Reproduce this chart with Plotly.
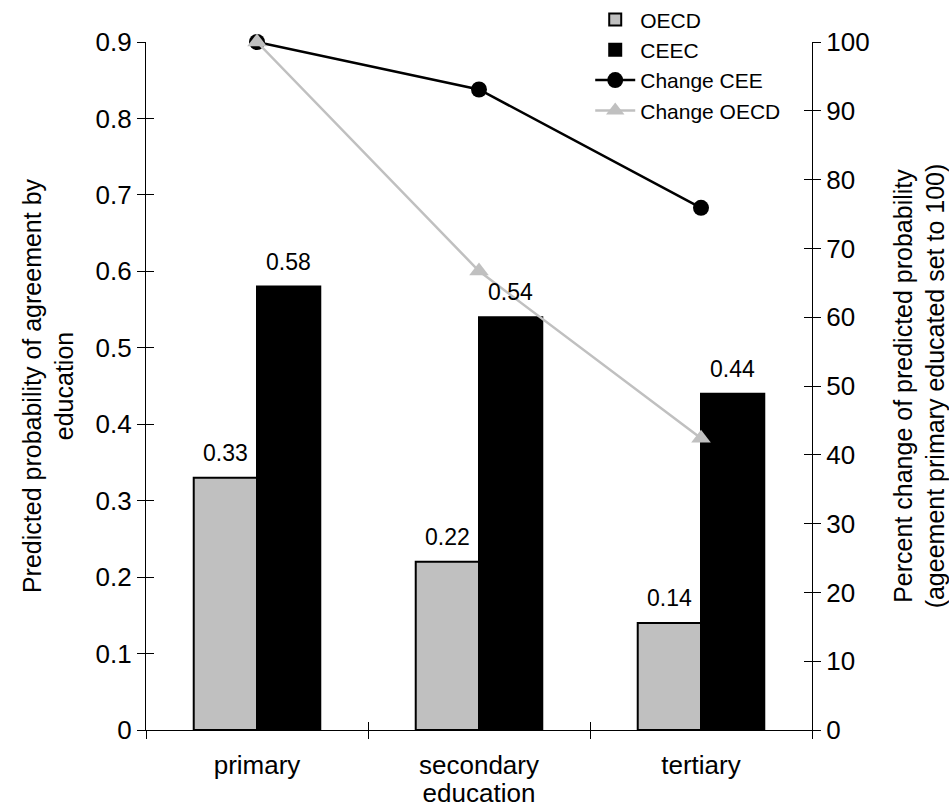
import plotly.graph_objects as go

categories = ['primary', 'secondary', 'tertiary']
oecd = [0.33, 0.22, 0.14]
ceec = [0.58, 0.54, 0.44]
change_cee = [100, 93.1, 75.9]
change_oecd = [100, 66.7, 42.4]

GRAY = '#C0C0C0'
FONT = 'Liberation Sans, Arial, sans-serif'
BARGAP = 0.43

fig = go.Figure()

fig.add_trace(go.Bar(
    x=categories, y=oecd, name='OECD',
    marker=dict(color=GRAY, line=dict(color='black', width=2)),
))
fig.add_trace(go.Bar(
    x=categories, y=ceec, name='CEEC',
    marker=dict(color='black', line=dict(color='black', width=2)),
))
fig.add_trace(go.Scatter(
    x=categories, y=change_cee, name='Change CEE', yaxis='y2',
    mode='lines+markers', line=dict(color='black', width=2.5),
    marker=dict(symbol='circle', size=16, color='black'),
    cliponaxis=False,
))
fig.add_trace(go.Scatter(
    x=categories, y=change_oecd, name='Change OECD', yaxis='y2',
    mode='lines+markers', line=dict(color=GRAY, width=2.5),
    marker=dict(symbol='triangle-up', size=17, color=GRAY),
    cliponaxis=False,
))
# empty traces so the overlay axes (inside halves of the ticks) get drawn
fig.add_trace(go.Scatter(x=[None], y=[None], xaxis='x2', yaxis='y3',
                         showlegend=False, hoverinfo='skip'))
fig.add_trace(go.Scatter(x=[None], y=[None], xaxis='x2', yaxis='y4',
                         showlegend=False, hoverinfo='skip'))

# value labels above the bars, shifted to each bar's centre
W, H = 949, 808
ML, MR, MT, MB = 146, 137, 42, 78
half_bar = (W - ML - MR) / len(categories) * (1 - BARGAP) / 4
for series, shift in ((oecd, -half_bar), (ceec, half_bar)):
    for cat, v in zip(categories, series):
        fig.add_annotation(x=cat, y=v, text=f'{v:.2f}', showarrow=False,
                           xshift=shift, yshift=25, yanchor='middle',
                           font=dict(size=23, color='black'))

axis_common = dict(showgrid=False, zeroline=False, showline=True,
                   linecolor='black', linewidth=1.3, ticklen=8,
                   tickcolor='black', tickwidth=1.3)

fig.update_layout(
    width=W, height=H,
    margin=dict(l=ML, r=MR, t=MT, b=MB, autoexpand=False),
    paper_bgcolor='white', plot_bgcolor='white',
    font=dict(family=FONT, size=26, color='black'),
    barmode='group', bargap=BARGAP, bargroupgap=0,
    showlegend=True,
    legend=dict(x=0.667, y=1.062, xanchor='left', yanchor='top',
                bgcolor='rgba(0,0,0,0)', font=dict(size=21),
                tracegroupgap=0, itemwidth=40),
    xaxis=dict(**axis_common, type='category', ticks='outside',
               tickson='boundaries', ticklabelstandoff=12,
               title=dict(text='education', standoff=0,
                          font=dict(size=26))),
    yaxis=dict(**axis_common, range=[0, 0.9], ticks='outside',
               tickvals=[0, 0.1, 0.2, 0.3, 0.4, 0.5, 0.6, 0.7, 0.8, 0.9],
               ticktext=['0', '0.1', '0.2', '0.3', '0.4', '0.5', '0.6',
                         '0.7', '0.8', '0.9'],
               title=dict(text='Predicted probability of agreement by'
                          '<br>education', standoff=14,
                          font=dict(size=25))),
    yaxis2=dict(**axis_common, range=[0, 100], dtick=10, ticks='outside',
                overlaying='y', side='right',
                title=dict(text='Percent change of predicted probability'
                           '<br>(ageement primary educated set to 100)',
                           standoff=26, font=dict(size=25))),
    xaxis2=dict(**axis_common, overlaying='x', range=[-0.5, 2.5],
                tickvals=[-0.5, 0.5, 1.5, 2.5], ticks='inside',
                showticklabels=False, anchor='y3'),
    yaxis3=dict(**axis_common, overlaying='y', range=[0, 0.9], dtick=0.1,
                ticks='inside', showticklabels=False, side='left',
                anchor='x2'),
    yaxis4=dict(**axis_common, overlaying='y', range=[0, 100], dtick=10,
                ticks='inside', showticklabels=False, side='right',
                anchor='x2'),
)

# drop the default page margin so the figure fills the window exactly
fig.write_html('out.html',
               config={'displayModeBar': False},
               post_script="document.body.style.margin='0';"
                           "document.body.style.overflow='hidden';")
